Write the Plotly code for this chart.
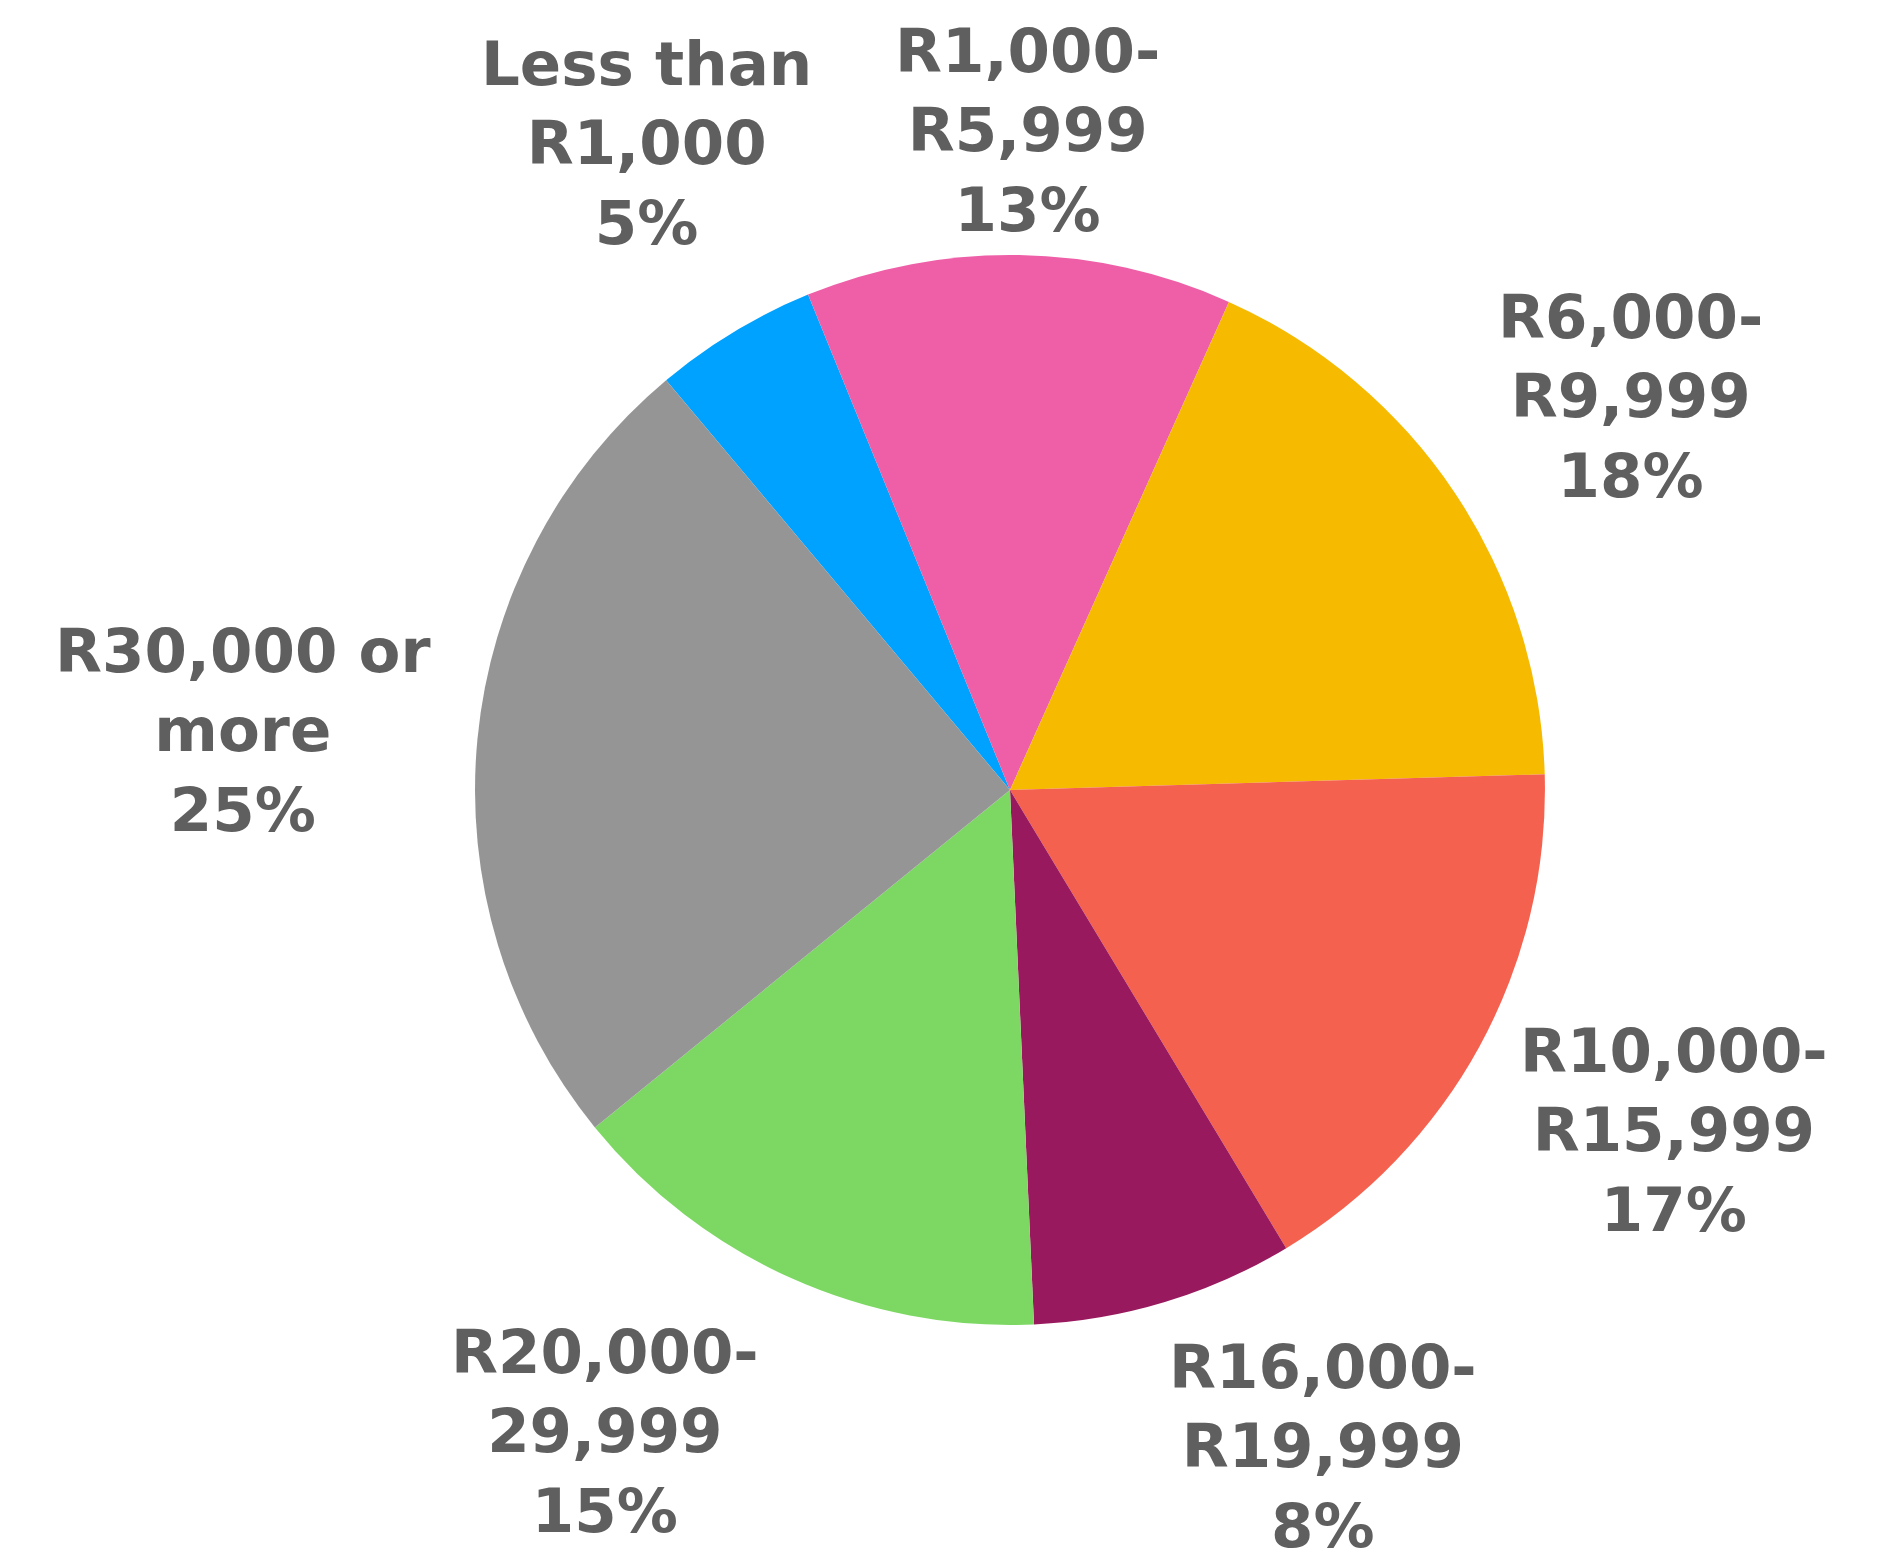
import plotly.graph_objects as go

# Monthly income bands and their share of respondents
categories = ["Less than<br>R1,000", "R1,000-<br>R5,999", "R6,000-<br>R9,999",
              "R10,000-<br>R15,999", "R16,000-<br>R19,999", "R20,000-<br>29,999",
              "R30,000 or<br>more"]
shares = [5, 13, 18, 17, 8, 15, 25]
colors = ["#00A2FF", "#EE5FA7", "#F6BA00", "#F5614F", "#99195E", "#7CD863", "#959595"]

# Label anchor points (paper coordinates) for each band's callout
label_x = [0.343, 0.545, 0.865, 0.888, 0.702, 0.321, 0.129]
label_y = [0.909, 0.917, 0.747, 0.279, 0.077, 0.087, 0.534]

fig = go.Figure(go.Pie(
    labels=categories,
    values=shares,
    marker=dict(colors=colors, line=dict(width=0)),
    sort=False,
    direction="clockwise",
    rotation=-40,
    textinfo="none",
    hoverinfo="label+value",
    domain=dict(x=[0.252, 0.8196], y=[0.1544, 0.8373]),
    showlegend=False,
))

for name, val, x, y in zip(categories, shares, label_x, label_y):
    fig.add_annotation(
        x=x, y=y, xref="paper", yref="paper",
        text=f"{name}<br>{val}%",
        showarrow=False,
        xanchor="center", yanchor="middle",
        font=dict(family="DejaVu Sans", size=61, color="#5F5F5F", weight="bold"),
    )

fig.update_layout(
    width=1885, height=1567,
    margin=dict(l=0, r=0, t=0, b=0),
    paper_bgcolor="white",
    plot_bgcolor="white",
)

fig.write_html("out.html")
